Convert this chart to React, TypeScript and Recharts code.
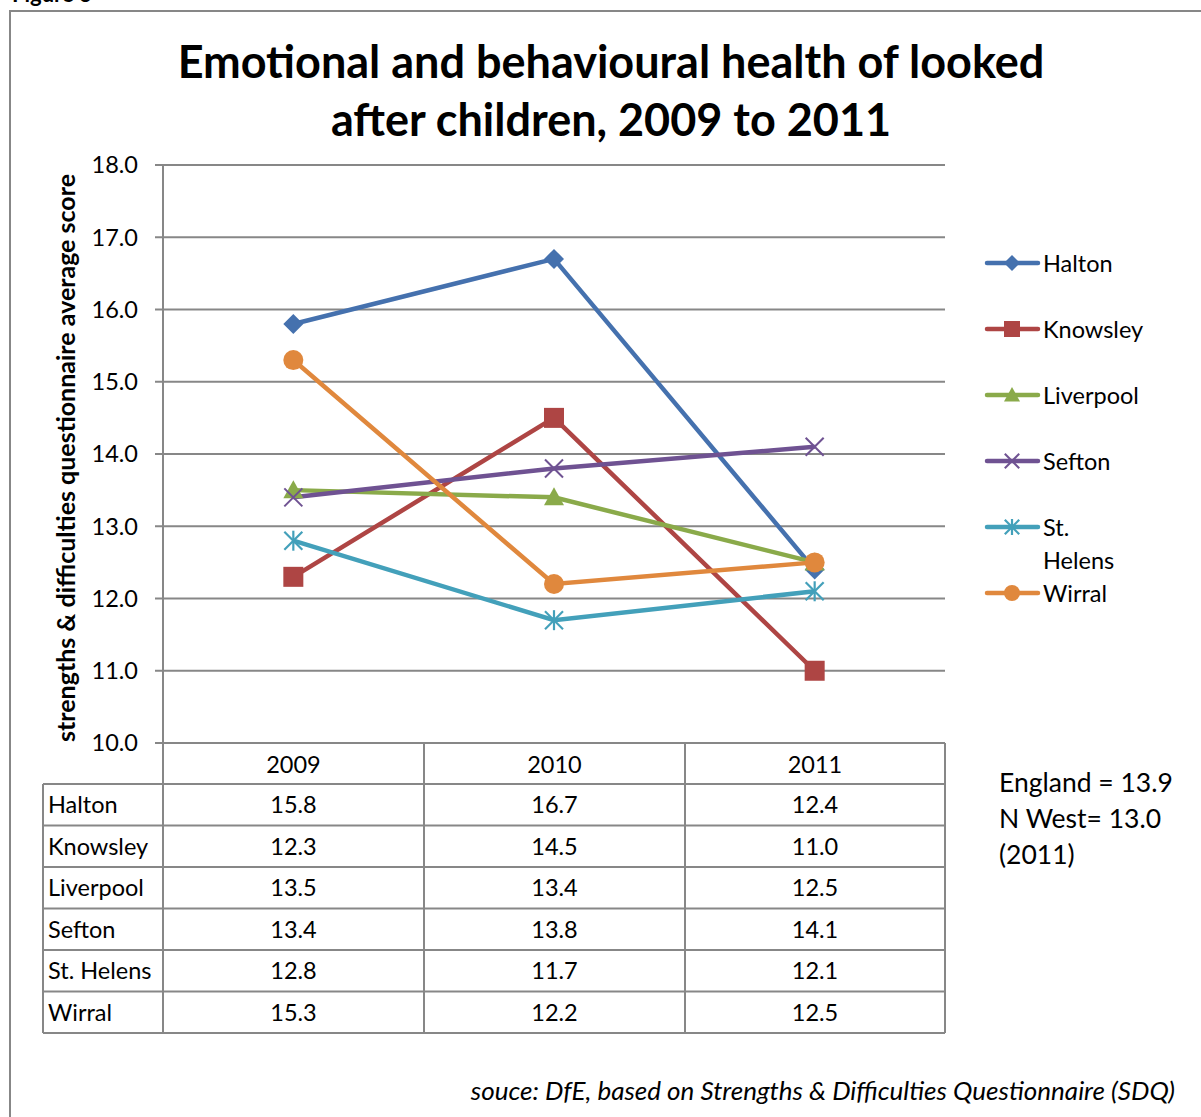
import { CartesianGrid, ComposedChart, Line, XAxis, YAxis } from "recharts";

const years = ["2009", "2010", "2011"];
const halton = [15.8, 16.7, 12.4];
const knowsley = [12.3, 14.5, 11.0];
const liverpool = [13.5, 13.4, 12.5];
const sefton = [13.4, 13.8, 14.1];
const stHelens = [12.8, 11.7, 12.1];
const wirral = [15.3, 12.2, 12.5];
const yTicks = [10, 11, 12, 13, 14, 15, 16, 17, 18];
const notes = ["England = 13.9", "N West= 13.0", "(2011)"];

type Shape = "diamond" | "square" | "triangle" | "x" | "star" | "circle";

const series: { name: string; legend: string; values: number[]; color: string; shape: Shape }[] = [
  { name: "Halton", legend: "Halton", values: halton, color: "#4571AE", shape: "diamond" },
  { name: "Knowsley", legend: "Knowsley", values: knowsley, color: "#AE4544", shape: "square" },
  { name: "Liverpool", legend: "Liverpool", values: liverpool, color: "#8AAA4A", shape: "triangle" },
  { name: "Sefton", legend: "Sefton", values: sefton, color: "#6F5292", shape: "x" },
  { name: "St. Helens", legend: "St.\nHelens", values: stHelens, color: "#43A0BA", shape: "star" },
  { name: "Wirral", legend: "Wirral", values: wirral, color: "#E0883D", shape: "circle" },
];

const data = years.map((year, i) => {
  const row: Record<string, string | number> = { year };
  series.forEach((s) => (row[s.name] = s.values[i]));
  return row;
});

const FONT = "Lato, 'Open Sans', sans-serif";
const GRID = "#878787";
const TXT = 23.5;

function Marker({ shape, cx, cy, color, k = 1 }: { shape: Shape; cx: number; cy: number; color: string; k?: number }) {
  const r = 10 * k;
  switch (shape) {
    case "diamond":
      return <polygon points={`${cx},${cy - r} ${cx + r},${cy} ${cx},${cy + r} ${cx - r},${cy}`} fill={color} />;
    case "square":
      return <rect x={cx - r} y={cy - r} width={2 * r} height={2 * r} fill={color} />;
    case "triangle":
      return <polygon points={`${cx},${cy - r} ${cx + r},${cy + r * 0.8} ${cx - r},${cy + r * 0.8}`} fill={color} />;
    case "x":
      return (
        <g stroke={color} strokeWidth={2}>
          <line x1={cx - r * 0.9} y1={cy - r * 0.9} x2={cx + r * 0.9} y2={cy + r * 0.9} />
          <line x1={cx - r * 0.9} y1={cy + r * 0.9} x2={cx + r * 0.9} y2={cy - r * 0.9} />
        </g>
      );
    case "star":
      return (
        <g stroke={color} strokeWidth={2.2}>
          <line x1={cx - r * 0.9} y1={cy - r * 0.9} x2={cx + r * 0.9} y2={cy + r * 0.9} />
          <line x1={cx - r * 0.9} y1={cy + r * 0.9} x2={cx + r * 0.9} y2={cy - r * 0.9} />
          <line x1={cx} y1={cy - r} x2={cx} y2={cy + r} />
        </g>
      );
    default:
      return <circle cx={cx} cy={cy} r={r} fill={color} />;
  }
}

// data table geometry
const colX = [43, 163, 424, 685, 945];
const headTop = 743;
const rowTop0 = 784;
const rowH = 41.5;

function DataTable() {
  const bottom = rowTop0 + rowH * series.length;
  return (
    <g fontFamily={FONT} fontSize={TXT} fill="#000">
      <line x1={colX[1]} x2={colX[4]} y1={headTop} y2={headTop} stroke={GRID} strokeWidth={2} />
      {series.map((_, i) => (
        <line key={i} x1={colX[0]} x2={colX[4]} y1={rowTop0 + i * rowH} y2={rowTop0 + i * rowH} stroke={GRID} strokeWidth={2} />
      ))}
      <line x1={colX[0]} x2={colX[4]} y1={bottom} y2={bottom} stroke={GRID} strokeWidth={2} />
      <line x1={colX[0]} x2={colX[0]} y1={rowTop0} y2={bottom} stroke={GRID} strokeWidth={2} />
      {colX.slice(1).map((x) => (
        <line key={x} x1={x} x2={x} y1={headTop} y2={bottom} stroke={GRID} strokeWidth={2} />
      ))}
      {years.map((y, j) => (
        <text key={y} x={(colX[j + 1] + colX[j + 2]) / 2} y={headTop + 21} textAnchor="middle" dominantBaseline="central">
          {y}
        </text>
      ))}
      {series.map((s, i) => (
        <g key={s.name}>
          <text x={48} y={rowTop0 + i * rowH + 20} dominantBaseline="central">
            {s.name}
          </text>
          {s.values.map((v, j) => (
            <text key={j} x={(colX[j + 1] + colX[j + 2]) / 2} y={rowTop0 + i * rowH + 20} textAnchor="middle" dominantBaseline="central">
              {v.toFixed(1)}
            </text>
          ))}
        </g>
      ))}
    </g>
  );
}

function LegendBox() {
  return (
    <g fontFamily={FONT} fontSize={TXT} fill="#000">
      {series.map((s, i) => {
        const cy = 263 + i * 66;
        return (
          <g key={s.name}>
            <line x1={987} x2={1038} y1={cy} y2={cy} stroke={s.color} strokeWidth={4.5} strokeLinecap="round" />
            <Marker shape={s.shape} cx={1012} cy={cy} color={s.color} k={0.8} />
            {s.legend.split("\n").map((t, li) => (
              <text key={li} x={1043} y={cy + li * 33} dominantBaseline="central">
                {t}
              </text>
            ))}
          </g>
        );
      })}
    </g>
  );
}

export default function App() {
  return (
    <div style={{ position: "relative", width: 1201, height: 1117, overflow: "hidden", background: "#fff" }}>
      <style>{`body{margin:0;overflow:hidden}`}</style>
      <ComposedChart
        width={1201}
        height={1117}
        data={data}
        margin={{ top: 165, right: 256, bottom: 374, left: 103 }}
      >
        <CartesianGrid vertical={false} stroke={GRID} strokeWidth={2} />
        <XAxis dataKey="year" hide scale="band" />
        <YAxis
          domain={[10, 18]}
          ticks={yTicks}
          width={60}
          tickFormatter={(v: number) => v.toFixed(1)}
          axisLine={{ stroke: GRID, strokeWidth: 2 }}
          tickLine={{ stroke: GRID, strokeWidth: 2 }}
          tickSize={8}
          tickMargin={17}
          tick={{ fill: "#000", fontSize: TXT, fontFamily: FONT }}
          interval={0}
        />
        {series.map((s) => (
          <Line
            key={s.name}
            dataKey={s.name}
            stroke={s.color}
            strokeWidth={4.5}
            isAnimationActive={false}
            dot={(p: any) => <Marker key={`${s.name}-${p.index}`} shape={s.shape} cx={p.cx} cy={p.cy} color={s.color} />}
            activeDot={false}
          />
        ))}
      </ComposedChart>
      <svg width={1201} height={1117} style={{ position: "absolute", left: 0, top: 0, pointerEvents: "none" }}>
        <line x1={10} x2={1201} y1={11} y2={11} stroke={GRID} strokeWidth={2} />
        <line x1={10} x2={10} y1={10} y2={1117} stroke={GRID} strokeWidth={2} />
        <text x={12} y={2} fontFamily={FONT} fontWeight="bold" fontSize={22}>
          Figure 3
        </text>
        <g fontFamily={FONT} fontWeight="bold" fontSize={45} textAnchor="middle" fill="#000">
          <text x={611} y={78}>Emotional and behavioural health of looked</text>
          <text x={611} y={136}>after children, 2009 to 2011</text>
        </g>
        <text
          transform="translate(75,458) rotate(-90)"
          textAnchor="middle"
          fontFamily={FONT}
          fontWeight="bold"
          fontSize={25}
        >
          strengths &amp; difficulties questionnaire average score
        </text>
        <DataTable />
        <LegendBox />
        <g fontFamily={FONT} fontSize={26.5}>
          {notes.map((n, i) => (
            <text key={n} x={999} y={782 + i * 36} dominantBaseline="central">
              {n}
            </text>
          ))}
        </g>
        <text x={1175} y={1090} textAnchor="end" dominantBaseline="central" fontFamily={FONT} fontStyle="italic" fontSize={26}>
          souce: DfE, based on Strengths &amp; Difficulties Questionnaire (SDQ)
        </text>
      </svg>
    </div>
  );
}
